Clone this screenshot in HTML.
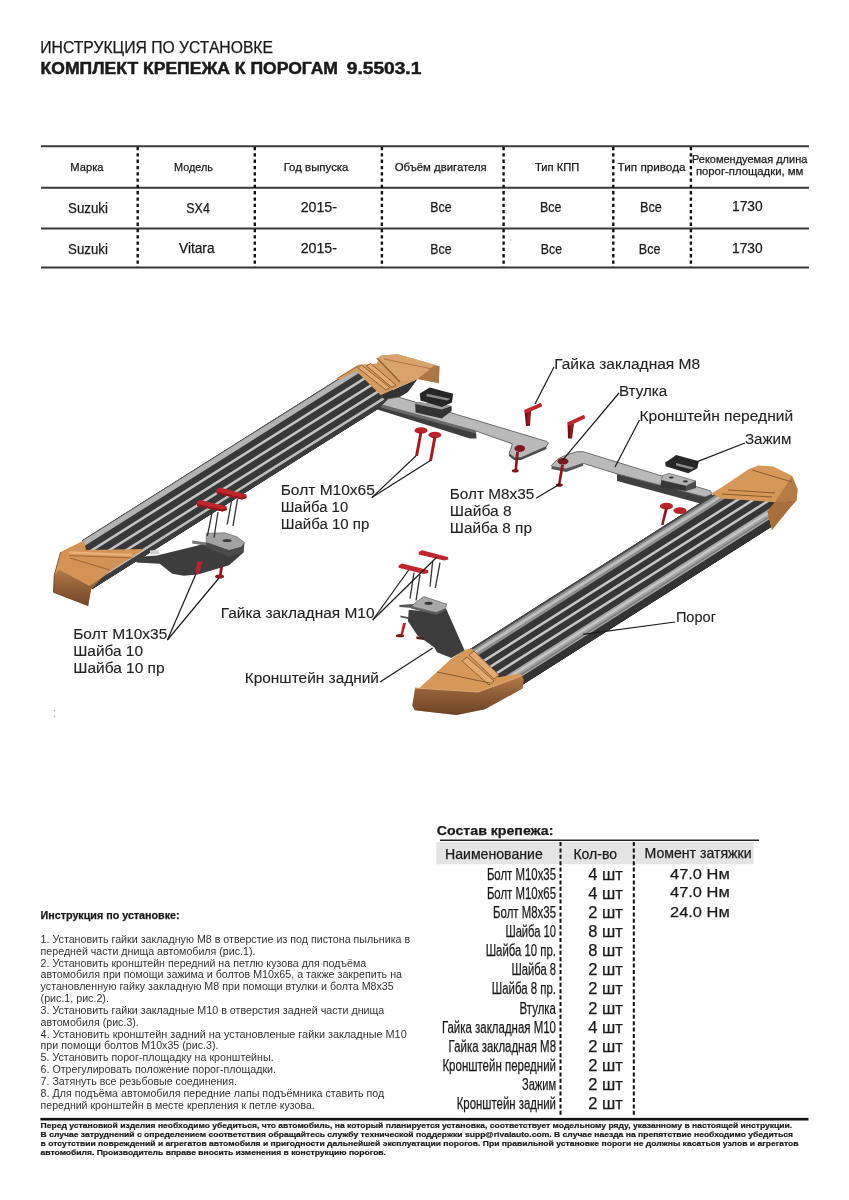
<!DOCTYPE html>
<html><head><meta charset="utf-8">
<style>
html,body{margin:0;padding:0;background:#fff;}
svg{display:block;filter:blur(0.35px);}
text{font-family:"Liberation Sans",sans-serif;fill:#1a1a1a;stroke:#1a1a1a;stroke-width:0.25px;}
g.lbl text{fill:#222;stroke:#222;stroke-width:0.1px;}
g.ins text{fill:#333;stroke-width:0;}
g.ftr text{stroke-width:0.2px;}
text.b5{stroke-width:0.5px;}
</style></head>
<body>
<svg width="849" height="1200" viewBox="0 0 849 1200">
<rect width="849" height="1200" fill="#fff"/>
<!-- title -->
<text x="40.3" y="52.7" font-size="16.8" textLength="232.7" lengthAdjust="spacingAndGlyphs">ИНСТРУКЦИЯ ПО УСТАНОВКЕ</text>
<text x="40.6" y="73.9" font-size="16.8" font-weight="bold" class="b5" textLength="297.4" lengthAdjust="spacingAndGlyphs">КОМПЛЕКТ КРЕПЕЖА К ПОРОГАМ</text>
<text x="346.8" y="73.9" font-size="16.8" font-weight="bold" class="b5" textLength="74.5" lengthAdjust="spacingAndGlyphs">9.5503.1</text>

<!-- table 1 -->
<g stroke="#3a3a3a" stroke-width="2">
<line x1="41" y1="146.3" x2="809" y2="146.3"/>
<line x1="41" y1="187.7" x2="809" y2="187.7"/>
<line x1="41" y1="228.6" x2="809" y2="228.6"/>
<line x1="41" y1="267.5" x2="809" y2="267.5"/>
</g>
<g stroke="#111" stroke-width="2.4" stroke-dasharray="3.3 3">
<line x1="137.7" y1="147" x2="137.7" y2="267"/>
<line x1="254.8" y1="147" x2="254.8" y2="267"/>
<line x1="381.9" y1="147" x2="381.9" y2="267"/>
<line x1="503.6" y1="147" x2="503.6" y2="267"/>
<line x1="613.3" y1="147" x2="613.3" y2="267"/>
<line x1="690.9" y1="147" x2="690.9" y2="267"/>
</g>
<g font-size="11.5">
<text x="70.3" y="170.5" textLength="33.2" lengthAdjust="spacingAndGlyphs">Марка</text>
<text x="174" y="170.7" textLength="39" lengthAdjust="spacingAndGlyphs">Модель</text>
<text x="283.7" y="170.7" textLength="64.8" lengthAdjust="spacingAndGlyphs">Год выпуска</text>
<text x="394.7" y="171" textLength="92.1" lengthAdjust="spacingAndGlyphs">Объём двигателя</text>
<text x="534.9" y="171" textLength="44.4" lengthAdjust="spacingAndGlyphs">Тип КПП</text>
<text x="617.6" y="171" textLength="67.9" lengthAdjust="spacingAndGlyphs">Тип привода</text>
<text x="692" y="162.6" textLength="115.3" lengthAdjust="spacingAndGlyphs">Рекомендуемая длина</text>
<text x="695.9" y="175" textLength="107.5" lengthAdjust="spacingAndGlyphs">порог-площадки, мм</text>
</g>
<g font-size="14">
<text x="68" y="213" textLength="40" lengthAdjust="spacingAndGlyphs">Suzuki</text>
<text x="186.3" y="213" textLength="23.5" lengthAdjust="spacingAndGlyphs">SX4</text>
<text x="300.7" y="211.9" textLength="36.3" lengthAdjust="spacingAndGlyphs">2015-</text>
<text x="430.3" y="212" textLength="21.2" lengthAdjust="spacingAndGlyphs">Все</text>
<text x="539.9" y="212" textLength="21.4" lengthAdjust="spacingAndGlyphs">Все</text>
<text x="640" y="212" textLength="21.8" lengthAdjust="spacingAndGlyphs">Все</text>
<text x="732" y="210.5" textLength="30.6" lengthAdjust="spacingAndGlyphs">1730</text>
<text x="68" y="254" textLength="40" lengthAdjust="spacingAndGlyphs">Suzuki</text>
<text x="179" y="253.3" textLength="35.5" lengthAdjust="spacingAndGlyphs">Vitara</text>
<text x="300.7" y="253.1" textLength="36.3" lengthAdjust="spacingAndGlyphs">2015-</text>
<text x="430.3" y="253.5" textLength="21.2" lengthAdjust="spacingAndGlyphs">Все</text>
<text x="540.8" y="254.3" textLength="21.2" lengthAdjust="spacingAndGlyphs">Все</text>
<text x="638.8" y="254.3" textLength="21.7" lengthAdjust="spacingAndGlyphs">Все</text>
<text x="732" y="252.8" textLength="30.6" lengthAdjust="spacingAndGlyphs">1730</text>
</g>

<!-- DIAGRAM START -->
<g id="diagram">
<!-- ===== Board A (back/left) ===== -->
<clipPath id="clipA"><polygon points="82,0 352,0 402,56 92,56"/></clipPath>
<clipPath id="clipB"><polygon points="460,0 752,0 788,30 775,70 490,70"/></clipPath>
<g transform="matrix(1 -0.63 0 1 0 591.6)"><g clip-path="url(#clipA)">
  <rect x="66" y="0" width="335" height="56" fill="#383838"/>
  <rect x="66" y="0" width="335" height="1.3" fill="#555"/>
  <rect x="66" y="1.3" width="335" height="6.3" fill="#b3b3b3"/>
  <rect x="66" y="15" width="335" height="3" fill="#c4c4c4"/>
  <rect x="66" y="26" width="335" height="3" fill="#c4c4c4"/>
  <rect x="66" y="36.6" width="335" height="3" fill="#c4c4c4"/>
  <rect x="66" y="47.1" width="335" height="3.2" fill="#bdbdbd"/>
  <rect x="66" y="50.3" width="335" height="5.7" fill="#3c3c3c"/>
</g></g>
<!-- lower-left cap A -->
<defs>
<linearGradient id="faceA" x1="0" y1="0" x2="0" y2="1"><stop offset="0" stop-color="#b37a47"/><stop offset="0.45" stop-color="#93603a"/><stop offset="1" stop-color="#74482a"/></linearGradient>
<linearGradient id="faceB" x1="0" y1="0" x2="0" y2="1"><stop offset="0" stop-color="#b57c48"/><stop offset="0.4" stop-color="#93603a"/><stop offset="1" stop-color="#6e4326"/></linearGradient>
</defs>
<polygon points="60.6,552 81.8,541.4 84,540 86,550 144.3,549 104.7,574.6 91,589.5 88.2,605.7 53.5,592.3 54.2,575.3" fill="#d39256"/>
<polygon points="54.2,575.3 59.2,569.7 89.6,585.9 110,571.8 104.7,574.6 91,589.5 88.2,605.7 53.5,592.3" fill="url(#faceA)"/>
<polyline points="69,552.5 132,555" stroke="#e6b07a" stroke-width="2.5" fill="none"/>
<polyline points="69,555.5 132,558" stroke="#96602f" stroke-width="0.8" fill="none"/>
<polyline points="69.8,558 110,570" stroke="#96602f" stroke-width="0.9" fill="none"/>
<polyline points="60.6,552 54.2,575.3 53.5,592.3 88.2,605.7" stroke="#6a4020" stroke-width="0.8" fill="none"/>

<!-- upper-right cap A -->
<polygon points="380.9,395.2 414.8,380.3 417.6,378.9 408,392 388,404" fill="#333"/>
<polygon points="335.7,378.9 358.3,364.8 376.6,363.4 380.9,355.6 397.8,354.2 434.6,364.8 439.5,366.2 438.8,383.2 417.6,378.9 414.8,380.3 383.7,393.8 380.9,395.2 356,371 340,379.5" fill="#d39a62"/>
<polygon points="380.9,355.6 397.8,354.2 434.6,364.8 417.6,378.9 399.3,381.7 378,357.7" fill="#d9a36d"/>
<polygon points="417.6,378.9 434.6,365.5 439.5,366.2 438.8,383.2" fill="#ad7646"/>
<polyline points="384,359 432,369" stroke="#a87444" stroke-width="0.9" fill="none"/>
<polygon points="357.5,367.5 361.5,365 390,387.5 386,390" fill="#e0aa72" stroke="#8a5a2e" stroke-width="0.9"/>
<polygon points="366.5,366 370.5,363.5 396,385 392,387.5" fill="#e0aa72" stroke="#8a5a2e" stroke-width="0.9"/>
<polyline points="377,358 400,382" stroke="#8a5a2e" stroke-width="1.1" fill="none"/>
<polyline points="338,378 357,366.5" stroke="#8a5a2e" stroke-width="0.8" fill="none"/>

<!-- ===== Front bracket A ===== -->
<polygon points="377.4,409.4 382,405 476,431 476.5,438.5 470,438.6" fill="#3e3e3e"/>
<polygon points="382,405 388,398.8 398.6,397.1 546.3,441.3 548.4,442.9 546.3,446.6 520.9,457.7 514.5,457.7 509.2,453.5 512.4,443.9 476,431" fill="#b9b9b9" stroke="#505050" stroke-width="0.8"/>
<polygon points="382,405 476,431 476,433.5 381,407.5" fill="#6a6a6a"/>
<polygon points="509.2,453.5 514.5,457.7 520.9,457.7 546.3,446.6 546.5,449 521,460 514,460 509,456" fill="#4a4a4a"/>

<!-- clip on bracket A -->
<polygon points="415.2,404 418.4,402.3 451.6,406.1 451.6,411.1 441.7,418.5 415.6,412.5" fill="#333"/>
<polygon points="415.2,404 418.4,402.3 451.6,406.1 441.7,409.5" fill="#9c9c9c"/>
<polygon points="419.8,393.4 429.7,387.4 453.1,393.8 452,402.6 441.7,406.9 420.5,400.5" fill="#262626"/>
<polygon points="426.9,393.8 450.2,398.7 447.4,400.5 426.2,396.3" fill="#8a8a8a"/>

<!-- ===== Front bracket B ===== -->
<polygon points="617,473.9 705,497 712,494 712,500.5 704,504.5 617,481" fill="#404040"/>
<polygon points="551.4,465.4 557.7,459.1 566,455 576.8,451.7 583.2,451.7 710.4,490.9 712,494 705,497 617,473.9 583.2,463.3 566.2,469 551.8,466.5" fill="#b9b9b9" stroke="#505050" stroke-width="0.8"/>
<polygon points="551.8,466.5 566.2,469 583.2,463.3 583.2,465.8 566.2,472 551.4,469" fill="#555"/>

<!-- block on bracket B -->
<polygon points="662.8,475.4 669.1,473.3 696,481 686.1,486 661.4,480.3" fill="#b4b4b4" stroke="#555" stroke-width="0.6"/>
<polygon points="661.4,480.3 686.1,486 686.1,491 660,487.4" fill="#353535"/>
<polygon points="686.1,486 696,481 696,488 686.1,491" fill="#4a4a4a"/>
<ellipse cx="671.3" cy="477.5" rx="2.4" ry="1.1" fill="#333"/>
<ellipse cx="685.4" cy="481.4" rx="2.4" ry="1.1" fill="#333"/>
<!-- clip Зажим -->
<polygon points="665.2,462 667.7,460.9 676.2,454.9 698.8,461.3 697.4,468.3 688.2,473.3 665.6,466.2" fill="#272727"/>
<polygon points="676,463 694,467.5 692,469.5 676,465.5" fill="#8e8e8e"/>

<!-- ===== Board B (front/right) ===== -->
<g transform="matrix(1 -0.635 0 1 0 947.15)"><g clip-path="url(#clipB)">
  <rect x="455" y="0" width="340" height="70" fill="#363636"/>
  <rect x="455" y="0" width="340" height="2.5" fill="#4a4a4a"/>
  <rect x="455" y="2.5" width="340" height="9.2" fill="#8e8e8e"/>
  <rect x="455" y="5" width="340" height="3.5" fill="#bdbdbd"/>
  <rect x="455" y="19.5" width="340" height="3" fill="#c6c6c6"/>
  <rect x="455" y="29.5" width="340" height="3" fill="#c6c6c6"/>
  <rect x="455" y="40" width="340" height="3" fill="#c6c6c6"/>
  <rect x="455" y="50" width="340" height="11" fill="#a2a2a2"/>
  <rect x="455" y="52" width="340" height="3" fill="#c4c4c4"/>
  <rect x="455" y="57.5" width="340" height="1.6" fill="#7a7a7a"/>
  <rect x="455" y="61" width="340" height="9" fill="#333"/>
</g></g>
<!-- lower-left cap B -->
<polygon points="464,650 471.6,648.5 498,677.3 520.6,673.5 523.5,679.2 522.5,688.6 484.8,709.3 456.5,715 415,710.3 412.3,705.5 415,694.2 418.8,688.6 450.2,659.8" fill="#d59858"/>
<polygon points="415,688 450,690 478,692 521,676 523.5,679.2 522.5,688.6 484.8,709.3 456.5,715 415,710.3 412.3,705.5" fill="url(#faceB)"/>
<polyline points="415,688 478,692 521,676" stroke="#e0a870" stroke-width="1.2" fill="none"/>
<polygon points="462,661 467,657 494,681 489,685" fill="#e0aa70" stroke="#8a5a2e" stroke-width="0.9"/>
<polygon points="469,655 474,651 499,675 494,679" fill="#e0aa70" stroke="#8a5a2e" stroke-width="0.9"/>
<polyline points="437,672 490,683" stroke="#8a5a2e" stroke-width="1" fill="none"/>
<!-- upper-right cap B -->
<polygon points="711,493.7 722.2,487.1 748.6,469.2 758,465.4 773.1,466.4 792,475.8 797.6,489 796.6,500.3 790,507.8 780.6,519.2 772,530 767.4,511.6 775,502.2 722.2,498.4" fill="#d59858"/>
<polygon points="767.4,511.6 775,502.2 796.6,500.3 790,507.8 780.6,519.2 772,530" fill="#a86f3c"/>
<polygon points="775,502.2 792,476 797.6,489 796.6,500.3" fill="#b57b45"/>
<g stroke="#8a5a2e" stroke-width="1" fill="none">
<polyline points="722,494 772,497"/>
<polyline points="728,490 775,493"/>
<polyline points="752,470 792,482"/>
</g>

<!-- ===== Rear bracket A ===== -->
<polygon points="135.7,557 157,555.5 197.8,545.4 206.3,542.6 243.5,543 243.5,552.5 229,565.2 197.8,574.4 183.7,575.8 172.4,573.7 159.7,563.8 136.5,562.4" fill="#3d3d3d"/>
<polygon points="206.3,533.4 225,532.8 237.4,537 244.5,542.6 241.7,546.9 228.9,550.4 206.3,542.6" fill="#a3a3a3" stroke="#555" stroke-width="0.6"/>
<polygon points="206.3,542.6 228.9,550.4 241.7,546.9 244.5,542.6 243.5,552.5 229,557 206.3,548" fill="#4a4a4a"/>
<ellipse cx="227" cy="540.5" rx="4.5" ry="1.5" fill="#3a3a3a"/>
<polygon points="192.2,540.5 206.3,542.6 206.3,545.5 192.2,543.5" fill="#777"/>
<polygon points="149.8,550.5 158.5,549.7 159.7,554 150.5,554.6" fill="#cfcfcf"/>
<!-- red bolts below A rear -->
<polygon points="197,562 202.5,561 199,574 195.9,574" fill="#b8242a"/>
<polygon points="220,567 223,567 221.5,576 219,576" fill="#8a1a1e"/>
<ellipse cx="219.5" cy="576.5" rx="4.5" ry="2" fill="#8a1a1e"/>
<!-- washers above A rear -->
<polygon points="216.7,489 220,487.5 246.5,494.5 246.5,498 242,499.5 216.7,493.5" fill="#c0262c"/><polygon points="216.7,491.5 242,497.5 246.5,496 246.5,498 242,499.5 216.7,493.5" fill="#8e1a1e"/>
<polygon points="197,501.5 200.5,500 226.8,506.5 226.8,510 222.5,511.5 197,506" fill="#c0262c"/><polygon points="197,504 222.5,509.5 226.8,508 226.8,510 222.5,511.5 197,506" fill="#8e1a1e"/>
<g stroke="#333" stroke-width="1.3">
<line x1="232.1" y1="498" x2="227.2" y2="524.5"/>
<line x1="237.5" y1="499" x2="233" y2="526"/>
<line x1="212.3" y1="511.3" x2="207.4" y2="536"/>
<line x1="218" y1="512" x2="214" y2="537.7"/>
</g>

<!-- red bolts M10x65 A -->
<g fill="#a01c22">
<ellipse cx="421" cy="430.4" rx="6.5" ry="3.2" fill="#b8242a"/>
<ellipse cx="434.9" cy="434.9" rx="6.5" ry="3.2" fill="#b8242a"/>
<polygon points="419.5,432 422.5,432 418,456 415,456"/>
<polygon points="433.5,436.5 436.5,436.5 432,461 429,461"/>
</g>
<!-- M8 nuts -->
<polygon points="524.5,411 531,411 530,425.7 526,426" fill="#6e1214"/>
<polygon points="527.5,412 530,412 529,424 527.5,424" fill="#a01c20"/>
<polygon points="524,410 541,402.8 542.3,406.2 526,413.5" fill="#c0262c"/>
<polygon points="567.5,423.5 574,423.5 572,438.5 568,438.5" fill="#6e1214"/>
<polygon points="570.5,424.5 573,424.5 571.5,436 570,436" fill="#a01c20"/>
<polygon points="567,422.5 584,414.8 585.3,418.2 569,426" fill="#c0262c"/>
<!-- bushings and M8 bolts -->
<ellipse cx="519.8" cy="448.5" rx="5.3" ry="3.4" fill="#7a1a1e"/>
<polygon points="516,452 519,452 517,470 514.5,470" fill="#8a1a1e"/>
<ellipse cx="515.3" cy="470.8" rx="3.5" ry="1.8" fill="#7a1a1e"/>
<ellipse cx="563" cy="461.3" rx="5.5" ry="3.3" fill="#7a1a1e"/>
<polygon points="561,465 564,465 560.5,484 558,484" fill="#8a1a1e"/>
<ellipse cx="559.3" cy="485" rx="3.5" ry="1.8" fill="#7a1a1e"/>
<!-- red bolts B front -->
<ellipse cx="666.5" cy="506.2" rx="6.5" ry="3.4" fill="#b8242a"/>
<ellipse cx="680" cy="510.7" rx="6.5" ry="3.4" fill="#b8242a"/>
<polygon points="665,508 668,508 663.5,525 661,525" fill="#8a1a1e"/>

<!-- ===== Rear bracket B ===== -->
<polygon points="408.8,609.8 436.2,612.6 446,608.4 464.5,650.3 451.3,657.9 437.1,652.2 434.3,647.5 417.3,635.2 407.9,621.1" fill="#3c3c3c"/>
<polygon points="399.4,605.1 413.6,604.1 413.6,607.9 399.4,607" fill="#555"/>
<polygon points="413.6,604.1 423.9,596.6 446.5,604.1 445.6,608.4 436.2,612.6 411.7,606.5" fill="#a8a8a8" stroke="#505050" stroke-width="0.6"/>
<polygon points="411.7,606.5 436.2,612.6 445.6,608.4 445.6,610.5 436.2,615 411,608.5" fill="#5a5a5a"/>
<ellipse cx="428.6" cy="603.2" rx="4" ry="1.5" fill="#333"/>
<polygon points="400.4,615.4 408.8,617.3 408.8,619.2 400.4,617.3" fill="#555"/>
<polygon points="416.4,636.2 423.9,637.5 423.9,640 416.4,639" fill="#5a2020"/>
<polygon points="403,623 406,623 403,634.5 400.5,634.5" fill="#b8242a"/>
<ellipse cx="400" cy="635.7" rx="4.2" ry="1.6" fill="#7a1a1e"/>

<!-- washers above B rear -->
<polygon points="398.7,565.3 402,563.5 428,570 428.5,573 424,574 398.7,567.8" fill="#c0262c"/>
<polygon points="418.7,552 422,550.3 448,557 448.3,559.6 444,560.5 418.7,554.6" fill="#c0262c"/>
<g stroke="#333" stroke-width="1.3">
<line x1="414" y1="572.7" x2="410" y2="598.7"/>
<line x1="420" y1="574.7" x2="416" y2="600.7"/>
<line x1="432.7" y1="561.3" x2="430" y2="586.7"/>
<line x1="440" y1="562.7" x2="435.3" y2="588"/>
</g>

<!-- artifact -->
<circle cx="54.5" cy="710.8" r="0.8" fill="#aaa"/><circle cx="54.5" cy="716.3" r="0.8" fill="#aaa"/>
<!-- ===== leader lines ===== -->
<g stroke="#1a1a1a" stroke-width="1.2" fill="none">
<line x1="554" y1="367" x2="535" y2="404"/>
<line x1="619" y1="393" x2="562.4" y2="460.4"/>
<line x1="639.5" y1="420" x2="615" y2="467"/>
<line x1="745" y1="443" x2="695.4" y2="462.4"/>
<line x1="536" y1="498.3" x2="560" y2="484"/>
<line x1="371.8" y1="497.6" x2="415.9" y2="456"/>
<line x1="371.8" y1="497.6" x2="430.4" y2="460.6"/>
<line x1="167.4" y1="640" x2="195.9" y2="574"/>
<line x1="167.4" y1="640" x2="219" y2="578"/>
<line x1="372.7" y1="620" x2="408.7" y2="570"/>
<line x1="372.7" y1="620" x2="436.7" y2="557.3"/>
<line x1="380" y1="682" x2="432.7" y2="648"/>
<line x1="675" y1="622" x2="583" y2="634.3"/>
</g>
</g>

<!-- DIAGRAM END -->
<!-- labels -->
<g font-size="14" class="lbl">
<text x="554.2" y="368.7" textLength="146" lengthAdjust="spacingAndGlyphs">Гайка закладная М8</text>
<text x="619" y="396" textLength="48.2" lengthAdjust="spacingAndGlyphs">Втулка</text>
<text x="639.5" y="420.9" textLength="153.6" lengthAdjust="spacingAndGlyphs">Кронштейн передний</text>
<text x="744.9" y="443.6" textLength="46.6" lengthAdjust="spacingAndGlyphs">Зажим</text>
<text x="280.7" y="494.8" textLength="94.2" lengthAdjust="spacingAndGlyphs">Болт М10х65</text>
<text x="280.7" y="511.8" textLength="67.5" lengthAdjust="spacingAndGlyphs">Шайба 10</text>
<text x="280.7" y="528.8" textLength="88.6" lengthAdjust="spacingAndGlyphs">Шайба 10 пр</text>
<text x="449.8" y="499.2" textLength="84.4" lengthAdjust="spacingAndGlyphs">Болт М8х35</text>
<text x="449.8" y="516.2" textLength="61.8" lengthAdjust="spacingAndGlyphs">Шайба 8</text>
<text x="449.8" y="533" textLength="82.2" lengthAdjust="spacingAndGlyphs">Шайба 8 пр</text>
<text x="220.7" y="618" textLength="153.8" lengthAdjust="spacingAndGlyphs">Гайка закладная М10</text>
<text x="675.9" y="621.7" textLength="40.1" lengthAdjust="spacingAndGlyphs">Порог</text>
<text x="73.2" y="639.4" textLength="94.2" lengthAdjust="spacingAndGlyphs">Болт М10х35</text>
<text x="73.2" y="656.3" textLength="69.8" lengthAdjust="spacingAndGlyphs">Шайба 10</text>
<text x="73.2" y="673" textLength="91.4" lengthAdjust="spacingAndGlyphs">Шайба 10 пр</text>
<text x="244.7" y="682.9" textLength="134.3" lengthAdjust="spacingAndGlyphs">Кронштейн задний</text>
</g>

<!-- parts table -->
<text x="436.8" y="835" font-size="13" font-weight="bold" textLength="116.6" lengthAdjust="spacingAndGlyphs">Состав крепежа:</text>
<rect x="436.3" y="842" width="317.4" height="22.3" fill="#e4e4e4"/>
<line x1="440" y1="840.3" x2="759" y2="840.3" stroke="#222" stroke-width="1.6"/>
<g stroke="#111" stroke-width="2" stroke-dasharray="4 2.4">
<line x1="560.5" y1="842" x2="560.5" y2="1117"/>
<line x1="633.8" y1="842" x2="633.8" y2="1117"/>
</g>
<g font-size="14.5">
<text x="445" y="859" textLength="97.8" lengthAdjust="spacingAndGlyphs">Наименование</text>
<text x="573.4" y="859" textLength="43.6" lengthAdjust="spacingAndGlyphs">Кол-во</text>
<text x="644.5" y="857.8" textLength="107.1" lengthAdjust="spacingAndGlyphs">Момент затяжки</text>
</g>
<g font-size="16" id="names" transform="translate(0 1.4)">
<text x="486.9" y="878.7" textLength="69.1" lengthAdjust="spacingAndGlyphs">Болт М10х35</text>
<text x="486.9" y="897.8" textLength="69.1" lengthAdjust="spacingAndGlyphs">Болт М10х65</text>
<text x="493.1" y="916.8" textLength="62.9" lengthAdjust="spacingAndGlyphs">Болт М8х35</text>
<text x="505.4" y="935.9" textLength="50.6" lengthAdjust="spacingAndGlyphs">Шайба 10</text>
<text x="485.7" y="954.9" textLength="70.3" lengthAdjust="spacingAndGlyphs">Шайба 10 пр.</text>
<text x="511.6" y="974" textLength="44.4" lengthAdjust="spacingAndGlyphs">Шайба 8</text>
<text x="491.8" y="993" textLength="64.2" lengthAdjust="spacingAndGlyphs">Шайба 8 пр.</text>
<text x="519.5" y="1012.5" textLength="36.5" lengthAdjust="spacingAndGlyphs">Втулка</text>
<text x="441.9" y="1031.6" textLength="114.1" lengthAdjust="spacingAndGlyphs">Гайка закладная М10</text>
<text x="448.6" y="1050.6" textLength="107.4" lengthAdjust="spacingAndGlyphs">Гайка закладная М8</text>
<text x="442.4" y="1069.6" textLength="113.6" lengthAdjust="spacingAndGlyphs">Кронштейн передний</text>
<text x="522" y="1088.9" textLength="34" lengthAdjust="spacingAndGlyphs">Зажим</text>
<text x="456.7" y="1107.5" textLength="99.3" lengthAdjust="spacingAndGlyphs">Кронштейн задний</text>
</g>
<g font-size="16" id="qty" transform="translate(0 1.4)">
<text x="588.3" y="878.7" textLength="34.6" lengthAdjust="spacingAndGlyphs">4 шт</text>
<text x="588.3" y="897.8" textLength="34.6" lengthAdjust="spacingAndGlyphs">4 шт</text>
<text x="588.3" y="916.8" textLength="34.6" lengthAdjust="spacingAndGlyphs">2 шт</text>
<text x="588.3" y="935.9" textLength="34.6" lengthAdjust="spacingAndGlyphs">8 шт</text>
<text x="588.3" y="954.9" textLength="34.6" lengthAdjust="spacingAndGlyphs">8 шт</text>
<text x="588.3" y="974" textLength="34.6" lengthAdjust="spacingAndGlyphs">2 шт</text>
<text x="588.3" y="993" textLength="34.6" lengthAdjust="spacingAndGlyphs">2 шт</text>
<text x="588.3" y="1012.5" textLength="34.6" lengthAdjust="spacingAndGlyphs">2 шт</text>
<text x="588.3" y="1031.6" textLength="34.6" lengthAdjust="spacingAndGlyphs">4 шт</text>
<text x="588.3" y="1050.6" textLength="34.6" lengthAdjust="spacingAndGlyphs">2 шт</text>
<text x="588.3" y="1069.6" textLength="34.6" lengthAdjust="spacingAndGlyphs">2 шт</text>
<text x="588.3" y="1088.9" textLength="34.6" lengthAdjust="spacingAndGlyphs">2 шт</text>
<text x="588.3" y="1107.5" textLength="34.6" lengthAdjust="spacingAndGlyphs">2 шт</text>
</g>
<g font-size="15">
<text x="670" y="878.5" textLength="59.7" lengthAdjust="spacingAndGlyphs">47.0 Нм</text>
<text x="670" y="897" textLength="59.7" lengthAdjust="spacingAndGlyphs">47.0 Нм</text>
<text x="670" y="916.5" textLength="59.7" lengthAdjust="spacingAndGlyphs">24.0 Нм</text>
</g>

<!-- instructions -->
<text x="40.6" y="919.1" font-size="10" font-weight="bold" textLength="139" lengthAdjust="spacingAndGlyphs">Инструкция по установке:</text>
<g font-size="10" class="ins">
<text x="40.6" y="942.9" textLength="369.6" lengthAdjust="spacingAndGlyphs">1. Установить гайки закладную М8 в отверстие из под пистона пыльника в</text>
<text x="40.6" y="954.7" textLength="214.8" lengthAdjust="spacingAndGlyphs">передней части днища автомобиля (рис.1).</text>
<text x="40.6" y="966.6" textLength="325.6" lengthAdjust="spacingAndGlyphs">2. Установить кронштейн передний на петлю кузова для подъёма</text>
<text x="40.6" y="978.4" textLength="361.4" lengthAdjust="spacingAndGlyphs">автомобиля при помощи зажима и болтов М10х65, а также закрепить на</text>
<text x="40.6" y="990.2" textLength="353.1" lengthAdjust="spacingAndGlyphs">установленную гайку закладную М8 при помощи втулки и болта М8х35</text>
<text x="40.6" y="1002" textLength="68.3" lengthAdjust="spacingAndGlyphs">(рис.1, рис.2).</text>
<text x="40.6" y="1013.9" textLength="343.7" lengthAdjust="spacingAndGlyphs">3. Установить гайки закладные М10 в отверстия задней части днища</text>
<text x="40.6" y="1025.7" textLength="98.2" lengthAdjust="spacingAndGlyphs">автомобиля (рис.3).</text>
<text x="40.6" y="1037.5" textLength="366.1" lengthAdjust="spacingAndGlyphs">4. Установить кронштейн задний на установленые гайки закладные М10</text>
<text x="40.6" y="1049.4" textLength="177.9" lengthAdjust="spacingAndGlyphs">при помощи болтов М10х35 (рис.3).</text>
<text x="40.6" y="1061.2" textLength="233" lengthAdjust="spacingAndGlyphs">5. Установить порог-площадку на кронштейны.</text>
<text x="40.6" y="1073" textLength="235.4" lengthAdjust="spacingAndGlyphs">6. Отрегулировать положение порог-площадки.</text>
<text x="40.6" y="1084.8" textLength="196.4" lengthAdjust="spacingAndGlyphs">7. Затянуть все резьбовые соединения.</text>
<text x="40.6" y="1096.7" textLength="343.7" lengthAdjust="spacingAndGlyphs">8. Для подъёма автомобиля передние лапы подъёмника ставить под</text>
<text x="40.6" y="1108.7" textLength="274.2" lengthAdjust="spacingAndGlyphs">передний кронштейн в месте крепления к петле кузова.</text>
</g>

<!-- footer -->
<rect x="40.4" y="1117.9" width="768.1" height="2.6" fill="#111"/>
<g font-size="7.4" font-weight="bold" class="ftr">
<text x="40.6" y="1127.9" textLength="751.6" lengthAdjust="spacingAndGlyphs">Перед установкой изделия необходимо убедиться, что автомобиль, на который планируется установка, соответствует модельному ряду, указанному в настоящей инструкции.</text>
<text x="40.6" y="1136.7" textLength="752.4" lengthAdjust="spacingAndGlyphs">В случае затруднений с определением соответствия обращайтесь службу технической поддержки supp@rivalauto.com. В случае наезда на препятствие необходимо убедиться</text>
<text x="40.6" y="1146.2" textLength="758" lengthAdjust="spacingAndGlyphs">в отсутствии повреждений и агрегатов автомобиля и пригодности дальнейшей эксплуатации порогов. При правильной установке пороги не должны касаться узлов и агрегатов</text>
<text x="40.6" y="1155" textLength="345.4" lengthAdjust="spacingAndGlyphs">автомобиля. Производитель вправе вносить изменения в конструкцию порогов.</text>
</g>
</svg>
</body></html>
